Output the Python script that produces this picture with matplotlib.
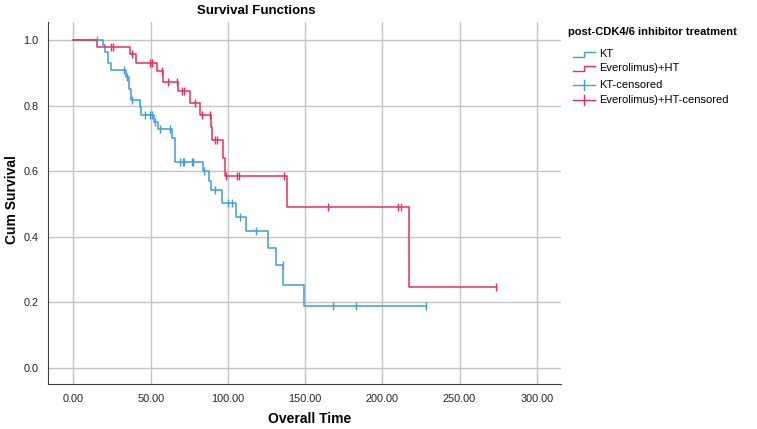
import numpy as np
import matplotlib.pyplot as plt
from matplotlib.lines import Line2D

plt.rcParams['font.family'] = ['Liberation Sans', 'DejaVu Sans']

# KT group: step times / cumulative survival, censored times, last follow-up
kt_time = [0, 19, 20.7, 22.4, 24.6, 33.9, 36, 37, 43, 44, 52.3, 54.9, 63.5, 65.6,
           83.6, 87.9, 88.8, 95.9, 105.2, 111.7, 126.1, 131.1, 135.8, 149.5]
kt_surv = [1.0, 0.985, 0.964, 0.929, 0.909, 0.888, 0.85, 0.817, 0.795, 0.771, 0.751,
           0.728, 0.70, 0.629, 0.60, 0.571, 0.543, 0.502, 0.461, 0.416, 0.365, 0.314,
           0.251, 0.189]
kt_cens = [15.5, 32.6, 34.7, 37.6, 46.5, 49.6, 51, 52.7, 56, 62.4, 69, 70.6, 71.7,
           76.5, 77.5, 84.6, 91.6, 100, 102.4, 107.8, 118, 135.5, 167.8, 182.8, 228.3]
kt_end = 228.3

# Everolimus)+HT group
ev_time = [0, 15.3, 36.5, 40.8, 54.2, 58.1, 67.8, 75.4, 81.9, 88.8, 89.8, 96.6, 98,
           138, 217.5]
ev_surv = [1.0, 0.978, 0.956, 0.929, 0.904, 0.873, 0.843, 0.807, 0.771, 0.734, 0.695,
           0.639, 0.585, 0.489, 0.245]
ev_cens = [24.2, 25.7, 38.2, 49.5, 51, 57, 61.3, 67.2, 70, 71.7, 78.6, 83, 88.3, 91.6,
           92.7, 98.7, 105.6, 107.3, 136.5, 165, 210.2, 212, 273.5]
ev_end = 273.5

labels = ['KT', 'Everolimus)+HT', 'KT-censored', 'Everolimus)+HT-censored']
blue = '#3C9CE4'
red = '#EE2C5C'

fig = plt.figure(figsize=(7.57, 4.29), dpi=100)
ax = fig.add_axes([48/757, 1-384/429, (561-48)/757, (384-22)/429])


def draw_group(times, surv, cens, end, color):
    t = list(times) + [end]
    s = list(surv) + [surv[-1]]
    ax.step(t, s, where='post', color=color, lw=1.1, zorder=3)
    idx = np.searchsorted(times, cens, side='right') - 1
    cy = np.array(surv)[idx]
    ax.plot(cens, cy, ls='none', marker='|', ms=6, mew=1.0, color=color, zorder=4)


draw_group(kt_time, kt_surv, kt_cens, kt_end, blue)
draw_group(ev_time, ev_surv, ev_cens, ev_end, red)

ax.set_xlim(-16.5, 315.7)
ax.set_ylim(-0.050, 1.055)
ax.set_xticks(np.arange(0, 301, 50))
ax.set_xticklabels(['%.2f' % v for v in np.arange(0, 301, 50)])
ax.set_yticks(np.arange(0, 1.01, 0.2))
ax.set_yticklabels(['%.1f' % v for v in np.arange(0, 1.01, 0.2)])
ax.tick_params(length=0, labelsize=7.8, pad=7, colors='#222222')
ax.grid(True, color='#C4C4C4', lw=1.0, zorder=0)
ax.set_axisbelow(True)
for side in ['top', 'right']:
    ax.spines[side].set_visible(False)
for side in ['left', 'bottom']:
    ax.spines[side].set_color('#404040')
    ax.spines[side].set_linewidth(0.8)

fig.text(256/757, 1-11/429, 'Survival Functions', fontsize=9.5, fontweight='bold',
         ha='center', va='center')
fig.text(310/757, 1-419/429, 'Overall Time', fontsize=10, fontweight='bold',
         ha='center', va='center')
fig.text(12/757, 1-200/429, 'Cum Survival', fontsize=10, fontweight='bold',
         rotation=90, ha='center', va='center')

# legend drawn by hand (SPSS style)
fig.text(568/757, 1-32/429, 'post-CDK4/6 inhibitor treatment', fontsize=8,
         fontweight='bold', ha='left', va='center')
ys = [54.3, 68.3, 85, 100]
for i, lab in enumerate(labels):
    y = 1 - ys[i]/429
    fig.text(599/757, y, lab, fontsize=8, ha='left', va='center')
    c = blue if i % 2 == 0 else red
    if i < 2:
        xs = np.array([573, 584, 584, 595]) / 757
        yy = np.array([y - 2.5/429, y - 2.5/429, y + 2.5/429, y + 2.5/429])
        fig.add_artist(Line2D(xs, yy, color=c, lw=1.0))
    else:
        fig.add_artist(Line2D([573/757, 595/757], [y, y], color=c, lw=1.0))
        fig.add_artist(Line2D([584/757, 584/757], [y - 5/429, y + 5/429], color=c, lw=1.0))

plt.savefig('out.png', dpi=100)
